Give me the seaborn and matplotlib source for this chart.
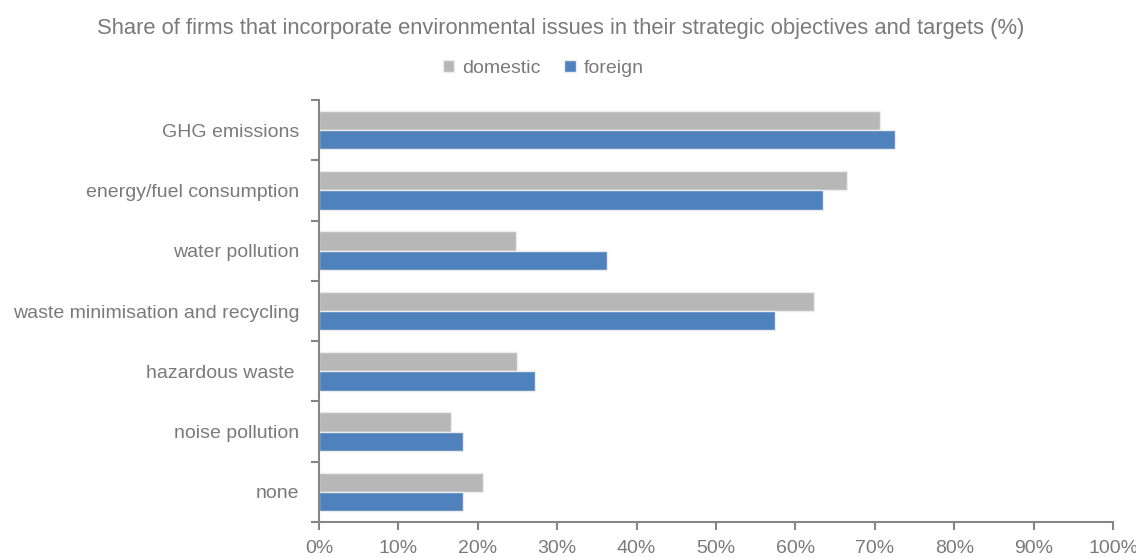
import matplotlib
matplotlib.use("Agg")
import matplotlib.pyplot as plt
import seaborn as sns
import pandas as pd
from matplotlib.ticker import FixedLocator, PercentFormatter

categories = ["GHG emissions", "energy/fuel consumption", "water pollution",
              "waste minimisation and recycling", "hazardous waste ",
              "noise pollution", "none"]
domestic = [70.7, 66.5, 24.8, 62.3, 24.9, 16.6, 20.7]
foreign = [72.6, 63.5, 36.3, 57.4, 27.2, 18.1, 18.1]
groups = ["domestic", "foreign"]
colors = {"domestic": "#b7b7b7", "foreign": "#4f81bd"}
x_ticks = [0, 10, 20, 30, 40, 50, 60, 70, 80, 90, 100]
title = "Share of firms that incorporate environmental issues in their strategic objectives and targets (%)"

df = pd.DataFrame({
    "category": categories * 2,
    "group": ["domestic"] * len(categories) + ["foreign"] * len(categories),
    "value": domestic + foreign,
})

sns.set_style("white")
plt.rcParams["font.family"] = ["Liberation Sans", "DejaVu Sans"]
text_col = "#7a7a7a"
axis_col = "#868686"

fig = plt.figure(figsize=(11.36, 5.58), dpi=100)
ax = fig.add_axes([0.2808, 0.0645, 0.699, 0.7563])

sns.barplot(data=df, y="category", x="value", hue="group", order=categories,
            hue_order=groups, palette=colors, orient="h", width=0.64,
            saturation=1, edgecolor="#ececec", linewidth=1.0, ax=ax, legend=True)

ax.set_xlim(0, 100)
ax.set_ylim(len(categories) - 0.5, -0.5)
ax.set_xlabel("")
ax.set_ylabel("")
ax.xaxis.set_major_locator(FixedLocator(x_ticks))
ax.xaxis.set_major_formatter(PercentFormatter(decimals=0))
ax.set_yticks(range(len(categories)))
ax.set_yticklabels(categories)
ax.yaxis.set_minor_locator(FixedLocator([i - 0.5 for i in range(len(categories) + 1)]))
ax.tick_params(axis="y", which="major", left=False, length=0, pad=14, labelsize=14, labelcolor=text_col)
ax.tick_params(axis="y", which="minor", left=True, length=6, width=1.5, color=axis_col, direction="out")
ax.tick_params(axis="x", which="major", bottom=True, length=6, width=1.5, color=axis_col, direction="out",
               labelsize=14, labelcolor=text_col, pad=7)

for s in ["top", "right"]:
    ax.spines[s].set_visible(False)
for s in ["left", "bottom"]:
    ax.spines[s].set_color(axis_col)
    ax.spines[s].set_linewidth(1.5)

handles, labels = ax.get_legend_handles_labels()
ax.legend(handles, labels, loc="center", bbox_to_anchor=(0.478, 0.878),
          bbox_transform=fig.transFigure, ncol=2, frameon=False,
          fontsize=14, labelcolor=text_col, handlelength=0.6, handleheight=0.6,
          handletextpad=0.4, columnspacing=1.2)

fig.text(0.494, 0.949, title, ha="center", va="center", fontsize=15.8, color=text_col)

fig.savefig("out.png", dpi=100)
